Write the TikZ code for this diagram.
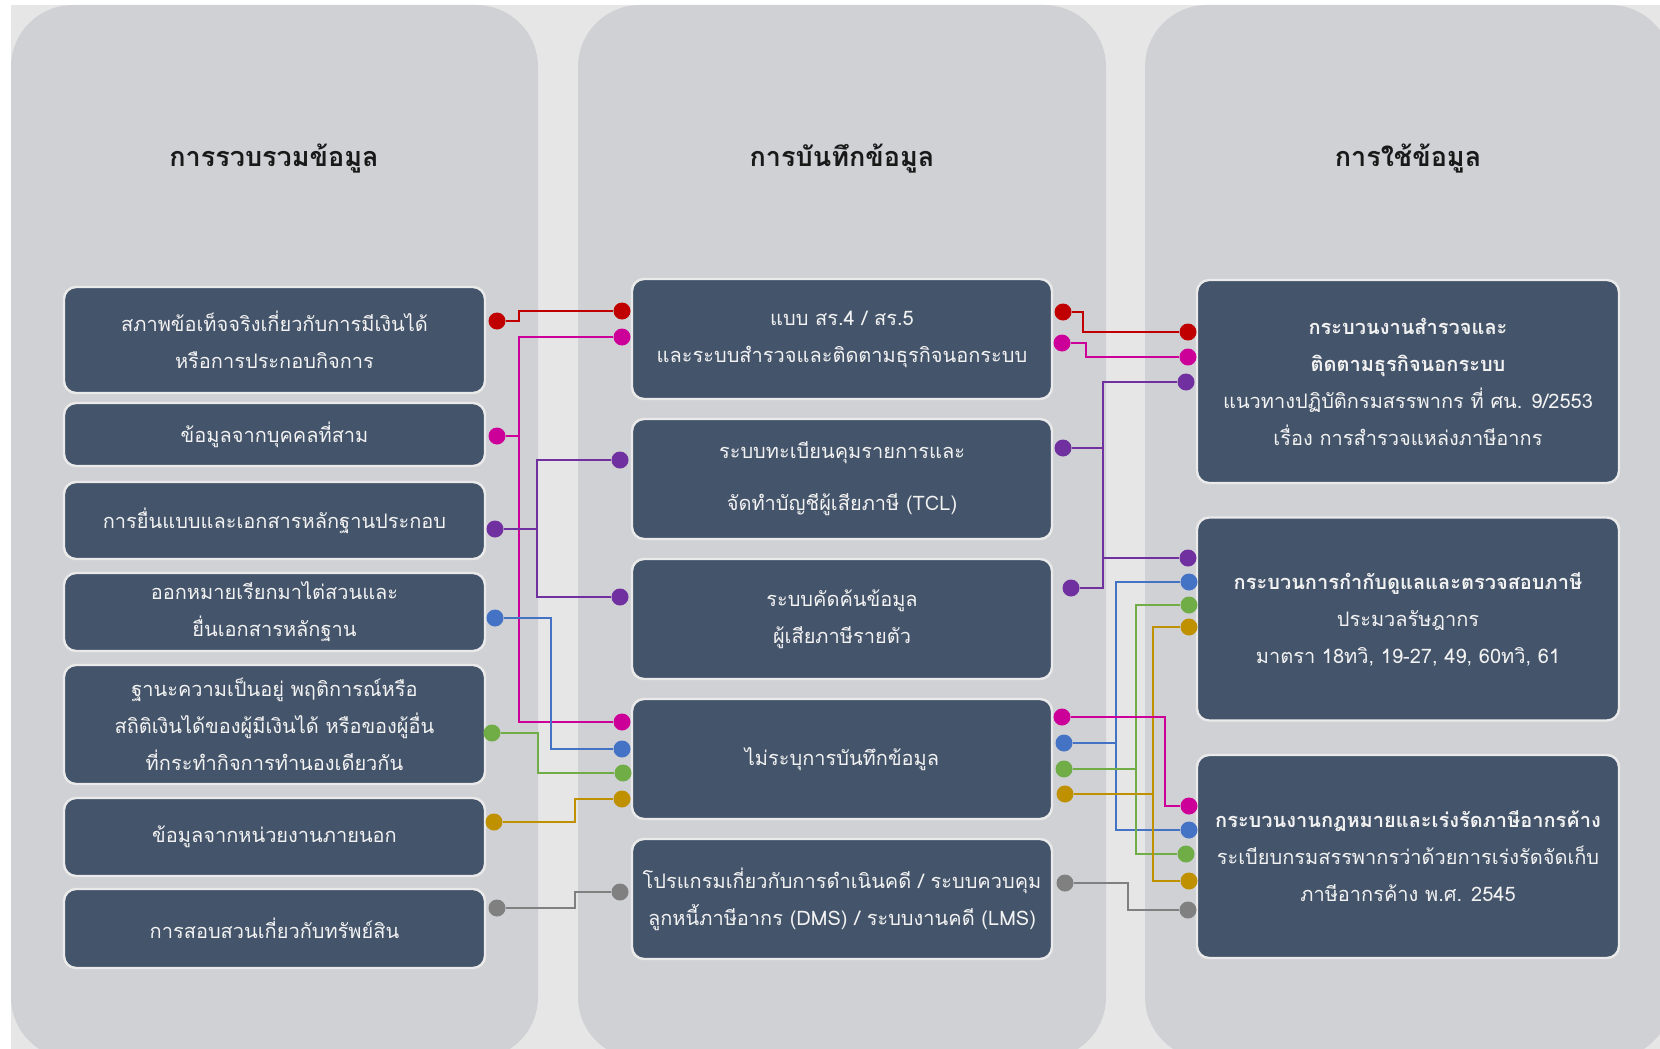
\documentclass[tikz,border=0pt]{standalone}
\usepackage{fontspec}
\setmainfont[Script=Thai]{Loma}
\usetikzlibrary{positioning}

\definecolor{pageBg}{HTML}{E6E6E6}
\definecolor{panelBg}{HTML}{D0D1D5}
\definecolor{boxFill}{HTML}{44546A}
\definecolor{boxLine}{HTML}{EAEAEA}
\definecolor{cRed}{HTML}{C00000}
\definecolor{cMag}{HTML}{CC0099}
\definecolor{cPur}{HTML}{7030A0}
\definecolor{cBlu}{HTML}{4472C4}
\definecolor{cGrn}{HTML}{70AD47}
\definecolor{cGld}{HTML}{BF9000}
\definecolor{cGry}{HTML}{808080}

\begin{document}
\begin{tikzpicture}[x=1pt, y=-1pt,
    panel/.style={fill=panelBg, rounded corners=62pt},
    title/.style={font=\fontsize{27}{32}\selectfont\bfseries, text=black!90},
    box/.style={draw=boxLine, line width=2.4pt, fill=boxFill, rounded corners=12pt,
      text=white!95!black, align=center, inner sep=0pt,
      font=\fontsize{20}{37}\selectfont},
    lbox/.style={box, minimum width=421pt, minimum height=#1},
    mbox/.style={box, minimum width=420pt, minimum height=120pt},
    rbox/.style={box, minimum width=422pt, minimum height=203pt},
    dot/.style={circle, fill=#1, inner sep=0pt, minimum size=17pt},
    wire/.style={draw=#1, line width=2.6pt}]
  \useasboundingbox (0,0) rectangle (1660,1049);
  \clip (0,0) rectangle (1660,1049);
  \fill[white] (0,0) rectangle (1660,1049);
  \fill[pageBg] (11,5) rectangle (1660,1049);

  % three columns
  \fill[panel] (11,5) rectangle (538,1059);
  \fill[panel] (578,5) rectangle (1106,1059);
  \fill[panel] (1145,5) rectangle (1672,1059);

  \node[title] (tCollect) at (274,159) {การรวบรวมข้อมูล};
  \node[title] (tRecord) at (842,159) {การบันทึกข้อมูล};
  \node[title] (tUse) at (1408,159) {การใช้ข้อมูล};

  % left column
  \node[lbox=106pt] (l1) at (274.5,340) {สภาพข้อเท็จจริงเกี่ยวกับการมีเงินได้\\หรือการประกอบกิจการ};
  \node[lbox=63pt] (l2) at (274.5,434.5) {ข้อมูลจากบุคคลที่สาม};
  \node[lbox=77pt] (l3) at (274.5,520.5) {การยื่นแบบและเอกสารหลักฐานประกอบ};
  \node[lbox=78pt] (l4) at (274.5,612) {ออกหมายเรียกมาไต่สวนและ\\ยื่นเอกสารหลักฐาน};
  \node[lbox=119pt] (l5) at (274.5,724.5) {ฐานะความเป็นอยู่ พฤติการณ์หรือ\\สถิติเงินได้ของผู้มีเงินได้ หรือของผู้อื่น\\ที่กระทำกิจการทำนองเดียวกัน};
  \node[lbox=78pt] (l6) at (274.5,837) {ข้อมูลจากหน่วยงานภายนอก};
  \node[lbox=79pt] (l7) at (274.5,928.5) {การสอบสวนเกี่ยวกับทรัพย์สิน};

  % middle column
  \node[mbox] (m1) at (842,339) {แบบ สร.4 / สร.5\\และระบบสำรวจและติดตามธุรกิจนอกระบบ};
  \node[mbox] (m2) at (842,479) {ระบบทะเบียนคุมรายการและ\\[15pt]จัดทำบัญชีผู้เสียภาษี (TCL)};
  \node[mbox] (m3) at (842,619) {ระบบคัดค้นข้อมูล\\ผู้เสียภาษีรายตัว};
  \node[mbox] (m4) at (842,759) {ไม่ระบุการบันทึกข้อมูล};
  \node[mbox] (m5) at (842,899) {โปรแกรมเกี่ยวกับการดำเนินคดี / ระบบควบคุม\\ลูกหนี้ภาษีอากร (DMS) / ระบบงานคดี (LMS)};

  % right column
  \node[rbox] (r1) at (1408,381.5) {\textbf{กระบวนงานสำรวจและ}\\\textbf{ติดตามธุรกิจนอกระบบ}\\แนวทางปฏิบัติกรมสรรพากร ที่ ศน. 9/2553\\เรื่อง การสำรวจแหล่งภาษีอากร};
  \node[rbox] (r2) at (1408,619) {\textbf{กระบวนการกำกับดูแลและตรวจสอบภาษี}\\ประมวลรัษฎากร\\มาตรา 18ทวิ, 19-27, 49, 60ทวิ, 61};
  \node[rbox] (r3) at (1408,856.5) {\textbf{กระบวนงานกฎหมายและเร่งรัดภาษีอากรค้าง}\\ระเบียบกรมสรรพากรว่าด้วยการเร่งรัดจัดเก็บ\\ภาษีอากรค้าง พ.ศ. 2545};

  % dots
  \node[dot=cRed] (dL1) at (497,321) {};
  \node[dot=cMag] (dL2) at (497,436) {};
  \node[dot=cPur] (dL3) at (495,529) {};
  \node[dot=cBlu] (dL4) at (495,618) {};
  \node[dot=cGrn] (dL5) at (492,733) {};
  \node[dot=cGld] (dL6) at (494,822) {};
  \node[dot=cGry] (dL7) at (497,908) {};

  \node[dot=cRed] (dM1a) at (622,311) {};
  \node[dot=cMag] (dM1b) at (622,337) {};
  \node[dot=cPur] (dM2a) at (620,460) {};
  \node[dot=cPur] (dM3a) at (620,597) {};
  \node[dot=cMag] (dM4a) at (622,722) {};
  \node[dot=cBlu] (dM4b) at (622,749) {};
  \node[dot=cGrn] (dM4c) at (623,773) {};
  \node[dot=cGld] (dM4d) at (622,799) {};
  \node[dot=cGry] (dM5a) at (620,892) {};

  \node[dot=cRed] (dM1c) at (1063,312) {};
  \node[dot=cMag] (dM1d) at (1062,343) {};
  \node[dot=cPur] (dM2b) at (1063,448) {};
  \node[dot=cPur] (dM3b) at (1071,588) {};
  \node[dot=cMag] (dM4e) at (1062,717) {};
  \node[dot=cBlu] (dM4f) at (1064,743) {};
  \node[dot=cGrn] (dM4g) at (1064,769) {};
  \node[dot=cGld] (dM4h) at (1065,794) {};
  \node[dot=cGry] (dM5b) at (1065,883) {};

  \node[dot=cRed] (dR1a) at (1188,332) {};
  \node[dot=cMag] (dR1b) at (1188,357) {};
  \node[dot=cPur] (dR1c) at (1186,382) {};
  \node[dot=cPur] (dR2a) at (1188,558) {};
  \node[dot=cBlu] (dR2b) at (1189,582) {};
  \node[dot=cGrn] (dR2c) at (1189,605) {};
  \node[dot=cGld] (dR2d) at (1189,627) {};
  \node[dot=cMag] (dR3a) at (1189,806) {};
  \node[dot=cBlu] (dR3b) at (1189,830) {};
  \node[dot=cGrn] (dR3c) at (1186,854) {};
  \node[dot=cGld] (dR3d) at (1189,881) {};
  \node[dot=cGry] (dR3e) at (1188,910) {};

  % bus lines
  \coordinate (xRed) at (519,0);
  \coordinate (xMag) at (519,0);
  \coordinate (xPur) at (537,0);
  \coordinate (xBlu) at (551,0);
  \coordinate (xGrn) at (538,0);
  \coordinate (xGld) at (575,0);
  \coordinate (xGry) at (575,0);
  \coordinate (yRed) at (1083,0);
  \coordinate (yMag) at (1086,0);
  \coordinate (yPur) at (1103,0);
  \coordinate (yBlu) at (1116,0);
  \coordinate (yGry) at (1128,0);
  \coordinate (yGrn) at (1136,0);
  \coordinate (yGld) at (1153,0);
  \coordinate (yMag2) at (1165,0);

  % collection -> recording
  \draw[wire=cRed] (dL1) -- (dL1 -| xRed) |- (dM1a);
  \draw[wire=cMag] (dM1b) -- (dM1b -| xMag) |- (dM4a);
  \draw[wire=cMag] (dL2) -- (dL2 -| xMag);
  \draw[wire=cPur] (dM2a) -- (dM2a -| xPur) |- (dM3a);
  \draw[wire=cPur] (dL3) -- (dL3 -| xPur);
  \draw[wire=cBlu] (dL4) -- (dL4 -| xBlu) |- (dM4b);
  \draw[wire=cGrn] (dL5) -- (dL5 -| xGrn) |- (dM4c);
  \draw[wire=cGld] (dL6) -- (dL6 -| xGld) |- (dM4d);
  \draw[wire=cGry] (dL7) -- (dL7 -| xGry) |- (dM5a);

  % recording -> use
  \draw[wire=cRed] (dM1c) -- (dM1c -| yRed) |- (dR1a);
  \draw[wire=cMag] (dM1d) -- (dM1d -| yMag) |- (dR1b);
  \draw[wire=cPur] (dR1c) -- (dR1c -| yPur) |- (dM3b);
  \draw[wire=cPur] (dM2b) -- (dM2b -| yPur);
  \draw[wire=cPur] (dR2a) -- (dR2a -| yPur);
  \draw[wire=cBlu] (dR2b) -- (dR2b -| yBlu) |- (dR3b);
  \draw[wire=cBlu] (dM4f) -- (dM4f -| yBlu);
  \draw[wire=cGrn] (dR2c) -- (dR2c -| yGrn) |- (dR3c);
  \draw[wire=cGrn] (dM4g) -- (dM4g -| yGrn);
  \draw[wire=cGld] (dR2d) -- (dR2d -| yGld) |- (dR3d);
  \draw[wire=cGld] (dM4h) -- (dM4h -| yGld);
  \draw[wire=cMag] (dM4e) -- (dM4e -| yMag2) |- (dR3a);
  \draw[wire=cGry] (dM5b) -- (dM5b -| yGry) |- (dR3e);
\end{tikzpicture}
\end{document}
